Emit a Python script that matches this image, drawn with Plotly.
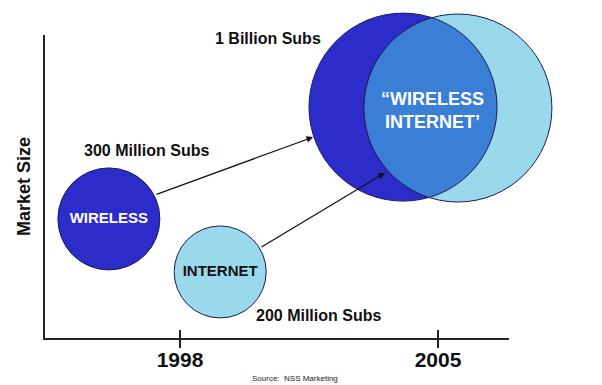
import numpy as np
import plotly.graph_objects as go

# ---------------- data ----------------
bubble_names = ["WIRELESS", "INTERNET", "WIRELESS (2005)", "INTERNET (2005)"]
bubble_year = [1996.07, 1999.09, 2004.05, 2005.54]
bubble_market = [39.3, 21.8, 76.2, 75.9]
subscribers_m = [300, 200, 1000, 1000]
sub_labels = ["300 Million Subs", "200 Million Subs", "1 Billion Subs", "1 Billion Subs"]
inner_labels = ["WIRELESS", "INTERNET", "", ""]
overlap_label = ["\u201cWIRELESS", "INTERNET\u2019"]
tick_years = [1998, 2005]
tick_labels = ["1998", "2005"]
source_text = "Source:  NSS Marketing"

# ---------------- styles / geometry ----------------
W, H = 602, 385
ML, MR, MT, MB = 45, 93, 35, 47
PW, PH = W - ML - MR, H - MT - MB
XR = [1994.337, 2006.926]
YR = [0, 100]

DARK = "#2C2CCB"
LIGHT = "#9AD9EC"
MID = "#3B7ED6"
EDGE = "#1a1a55"

diameters = [102, 92, 188, 188]
colors = [DARK, LIGHT, DARK, LIGHT]
text_colors = ["white", "#111111", "white", "white"]
FONT = "Liberation Sans, Arial, sans-serif"
NARROW = "Liberation Sans Narrow, Arial Narrow, Liberation Sans, Arial, sans-serif"


def to_px(x):
    return ML + (x - XR[0]) / (XR[1] - XR[0]) * PW


def to_py(y):
    return MT + (YR[1] - y) / (YR[1] - YR[0]) * PH


def lens_path(i, j):
    c1 = np.array([to_px(bubble_year[i]), to_py(bubble_market[i])])
    c2 = np.array([to_px(bubble_year[j]), to_py(bubble_market[j])])
    r1, r2 = diameters[i] / 2, diameters[j] / 2
    d = np.linalg.norm(c2 - c1)
    a = (r1 ** 2 - r2 ** 2 + d ** 2) / (2 * d)
    a1 = np.arccos(a / r1)
    a2 = np.arccos((d - a) / r2)
    t12 = np.arctan2(*(c2 - c1)[::-1])
    t21 = np.arctan2(*(c1 - c2)[::-1])
    th1 = np.linspace(t12 - a1, t12 + a1, 80)
    th2 = np.linspace(t21 - a2, t21 + a2, 80)
    p1 = np.c_[c1[0] + r1 * np.cos(th1), c1[1] + r1 * np.sin(th1)]
    p2 = np.c_[c2[0] + r2 * np.cos(th2), c2[1] + r2 * np.sin(th2)]
    if np.linalg.norm(p2[0] - p1[-1]) > np.linalg.norm(p2[-1] - p1[-1]):
        p2 = p2[::-1]
    pts = np.vstack([p1, p2])
    xp = (pts[:, 0] - ML) / PW
    yp = (MT + PH - pts[:, 1]) / PH
    segs = [f"{'M' if k == 0 else 'L'}{x:.5f},{y:.5f}" for k, (x, y) in enumerate(zip(xp, yp))]
    return " ".join(segs) + " Z"


fig = go.Figure()
fig.add_trace(go.Scatter(
    x=bubble_year, y=bubble_market,
    mode="markers+text",
    text=[f"<b>{t}</b>" if t else "" for t in inner_labels],
    textposition="middle center",
    textfont=dict(family=FONT, size=15, color=text_colors),
    marker=dict(size=diameters, color=colors, opacity=1,
                line=dict(color=EDGE, width=1)),
    customdata=subscribers_m,
    hovertext=bubble_names,
    cliponaxis=False,
    showlegend=False,
))

# overlap lens ("Wireless Internet")
fig.add_shape(type="path", xref="paper", yref="paper", path=lens_path(2, 3),
              fillcolor=MID, line=dict(color=EDGE, width=1), layer="above")

annotations = []
# subscriber labels
label_pos = [(1997.10, 62.0), (2001.77, 7.3), (2000.39, 99.0), (2007.96, 40.6)]
for (lx, ly), t in zip(label_pos, sub_labels):
    annotations.append(dict(x=lx, y=ly, text=f"<b>{t}</b>", showarrow=False,
                            font=dict(family=FONT, size=16, color="#111111")))
# overlap label
annotations.append(dict(x=2004.84, y=75.1, text="<b>" + "<br>".join(overlap_label) + "</b>",
                        showarrow=False, font=dict(family=FONT, size=18, color="white")))
# arrows
for (hx, hy, tx, ty) in [(2001.61, 66.3, 1997.32, 47.2), (2003.56, 54.5, 2000.17, 29.7)]:
    annotations.append(dict(x=hx, y=hy, ax=tx, ay=ty, axref="x", ayref="y",
                            text="", showarrow=True, arrowhead=2, arrowsize=1.1,
                            arrowwidth=1.2, arrowcolor="#111111", standoff=0))
# source
annotations.append(dict(x=2001.12, xref="x", y=-0.135, yref="paper", yanchor="middle",
                        text=source_text, showarrow=False,
                        font=dict(family=FONT, size=8, color="#222222")))

fig.update_layout(
    width=W, height=H,
    margin=dict(l=ML, r=MR, t=MT, b=MB, pad=0, autoexpand=False),
    paper_bgcolor="white", plot_bgcolor="white",
    showlegend=False,
    annotations=annotations,
    xaxis=dict(range=XR, showline=True, linecolor="#222222", linewidth=1.5,
               showgrid=False, zeroline=False, automargin=False,
               tickmode="array", tickvals=tick_years,
               ticktext=[f"<b>{t}</b>" for t in tick_labels],
               ticks="outside", ticklen=8, tickwidth=1.5, tickcolor="#222222",
               ticklabelstandoff=-6,
               tickfont=dict(family=NARROW, size=21, color="#111111"),
               minor=dict(tickmode="array", tickvals=[v + 0.001 for v in tick_years],
                          ticks="inside", ticklen=8, tickwidth=1.5, tickcolor="#222222",
                          showgrid=False),
               fixedrange=True),
    yaxis=dict(range=YR, showline=True, linecolor="#222222", linewidth=1.5,
               showgrid=False, zeroline=False, ticks="", showticklabels=False,
               automargin=False,
               title=dict(text="<b>Market Size</b>", standoff=8,
                          font=dict(family=FONT, size=18, color="#111111")),
               fixedrange=True),
)

fig.write_html("out.html", config={"displayModeBar": False},
               post_script="document.body.style.margin='0';document.body.style.overflow='hidden';")
